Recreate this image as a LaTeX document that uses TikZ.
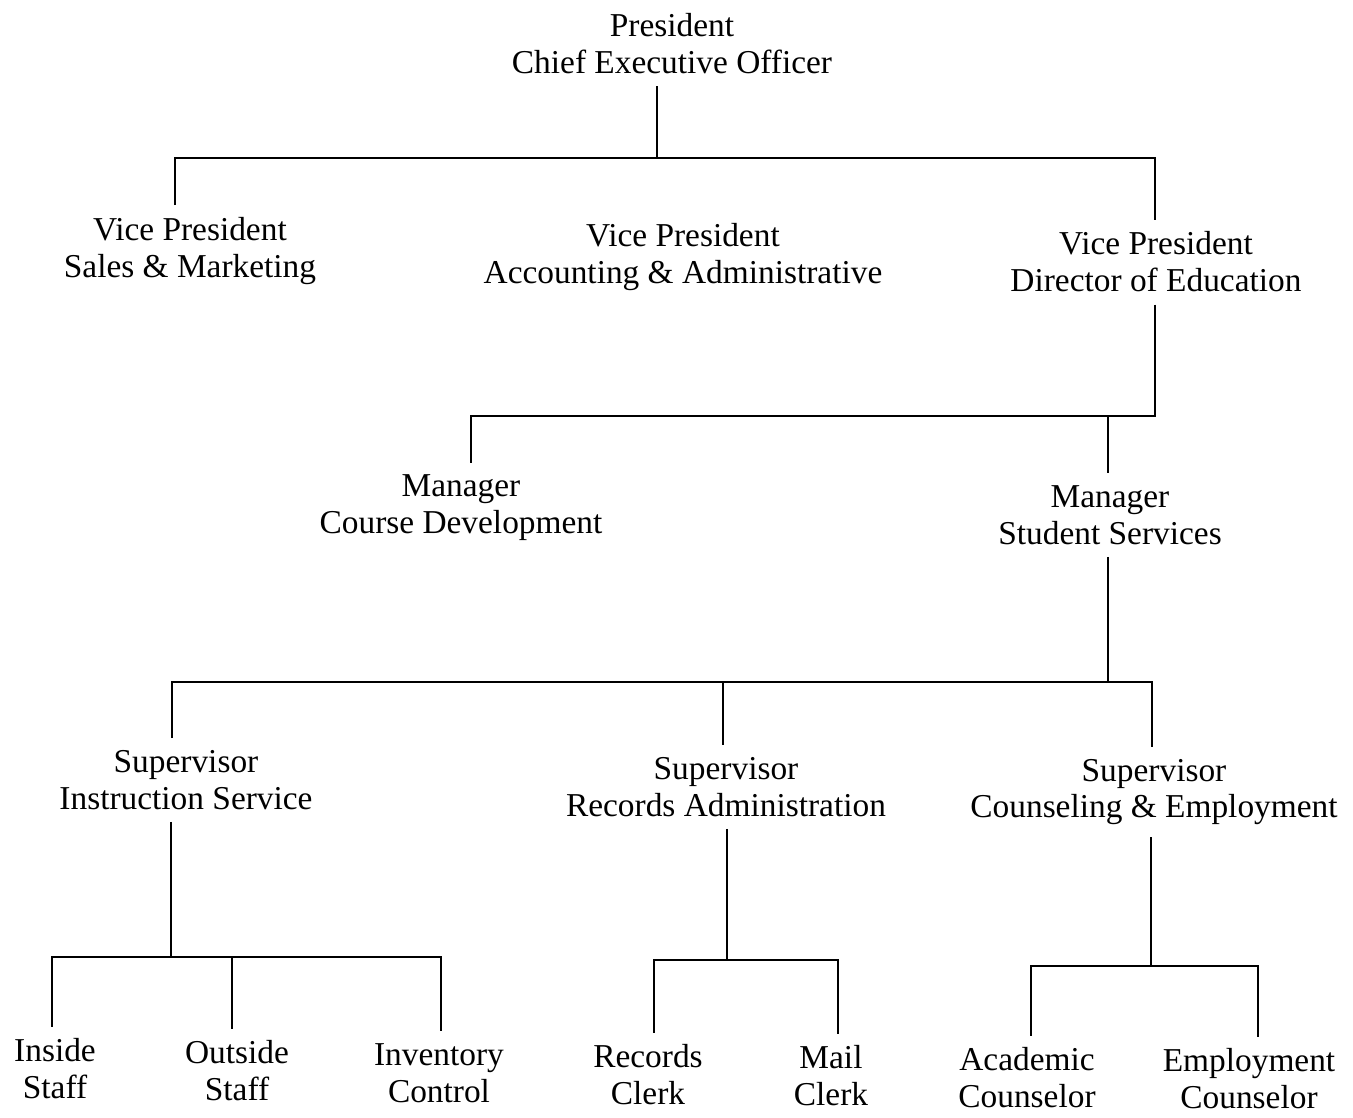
\documentclass[tikz,border=0pt]{standalone}
\usepackage{fontspec}
\setmainfont{Liberation Serif}

\begin{document}
\begin{tikzpicture}[x=0.02cm,y=-0.02cm,line width=1.1pt,
        post/.style={align=center,font=\fontsize{19}{21}\selectfont,inner sep=0pt,outer sep=7pt}]
        \useasboundingbox (0,0) rectangle (1353,1117);
        % titles
        \node[post] (pres) at (672,44) {President\\Chief Executive Officer};
        \node[post] (vpsales) at (190,251) {Vice President\\Sales \& Marketing};
        \node[post] (vpacct) at (683,257) {Vice President\\Accounting \& Administrative};
        \node[post] (vpedu) at (1156,262) {Vice President\\Director of Education};
        \node[post] (mgrcourse) at (461,508) {Manager\\Course Development};
        \node[post] (mgrstud) at (1110,515) {Manager\\Student Services};
        \node[post] (supinst) at (186,780) {Supervisor\\Instruction Service};
        \node[post] (suprec) at (726,787) {Supervisor\\Records Administration};
        \node[post] (supcoun) at (1154,792) {Supervisor\\Counseling \& Employment};
        \node[post] (inside) at (55,1069) {Inside\\Staff};
        \node[post] (outside) at (237,1071) {Outside\\Staff};
        \node[post] (invent) at (439,1073) {Inventory\\Control};
        \node[post] (recclerk) at (648,1075) {Records\\Clerk};
        \node[post] (mail) at (831,1076) {Mail\\Clerk};
        \node[post] (acad) at (1027,1078) {Academic\\Counselor};
        \node[post] (employ) at (1249,1079) {Employment\\Counselor};
        % buses
        \coordinate (b1l) at (175,158); \coordinate (b1m) at (657,158); \coordinate (b1r) at (1155,158);
        \coordinate (b2l) at (471,416); \coordinate (b2m) at (1108,416); \coordinate (b2r) at (1155,416);
        \coordinate (b3l) at (172,682); \coordinate (b3m) at (723,682); \coordinate (b3t) at (1108,682); \coordinate (b3r) at (1152,682);
        \coordinate (b4l) at (52,957); \coordinate (b4t) at (171,957); \coordinate (b4m) at (232,957); \coordinate (b4r) at (441,957);
        \coordinate (b5l) at (654,960); \coordinate (b5t) at (727,960); \coordinate (b5r) at (838,960);
        \coordinate (b6l) at (1031,966); \coordinate (b6t) at (1151,966); \coordinate (b6r) at (1258,966);
        % connectors
        \draw (b1m |- pres.south) -- (b1m);
        \draw (b1l |- vpsales.north) -- (b1l) -- (b1r) -- (b1r |- vpedu.north);
        \draw (b2r |- vpedu.south) -- (b2r) -- (b2l) -- (b2l |- mgrcourse.north);
        \draw (b2m) -- (b2m |- mgrstud.north);
        \draw (b3t |- mgrstud.south) -- (b3t);
        \draw (b3l |- supinst.north) -- (b3l) -- (b3r) -- (b3r |- supcoun.north);
        \draw (b3m) -- (b3m |- suprec.north);
        \draw (b4t |- supinst.south) -- (b4t);
        \draw (b4l |- inside.north) -- (b4l) -- (b4r) -- (b4r |- invent.north);
        \draw (b4m) -- (b4m |- outside.north);
        \draw (b5t |- suprec.south) -- (b5t);
        \draw (b5l |- recclerk.north) -- (b5l) -- (b5r) -- (b5r |- mail.north);
        \draw (b6t |- supcoun.south) -- (b6t);
        \draw (b6l |- acad.north) -- (b6l) -- (b6r) -- (b6r |- employ.north);
        \end{tikzpicture}
\end{document}
